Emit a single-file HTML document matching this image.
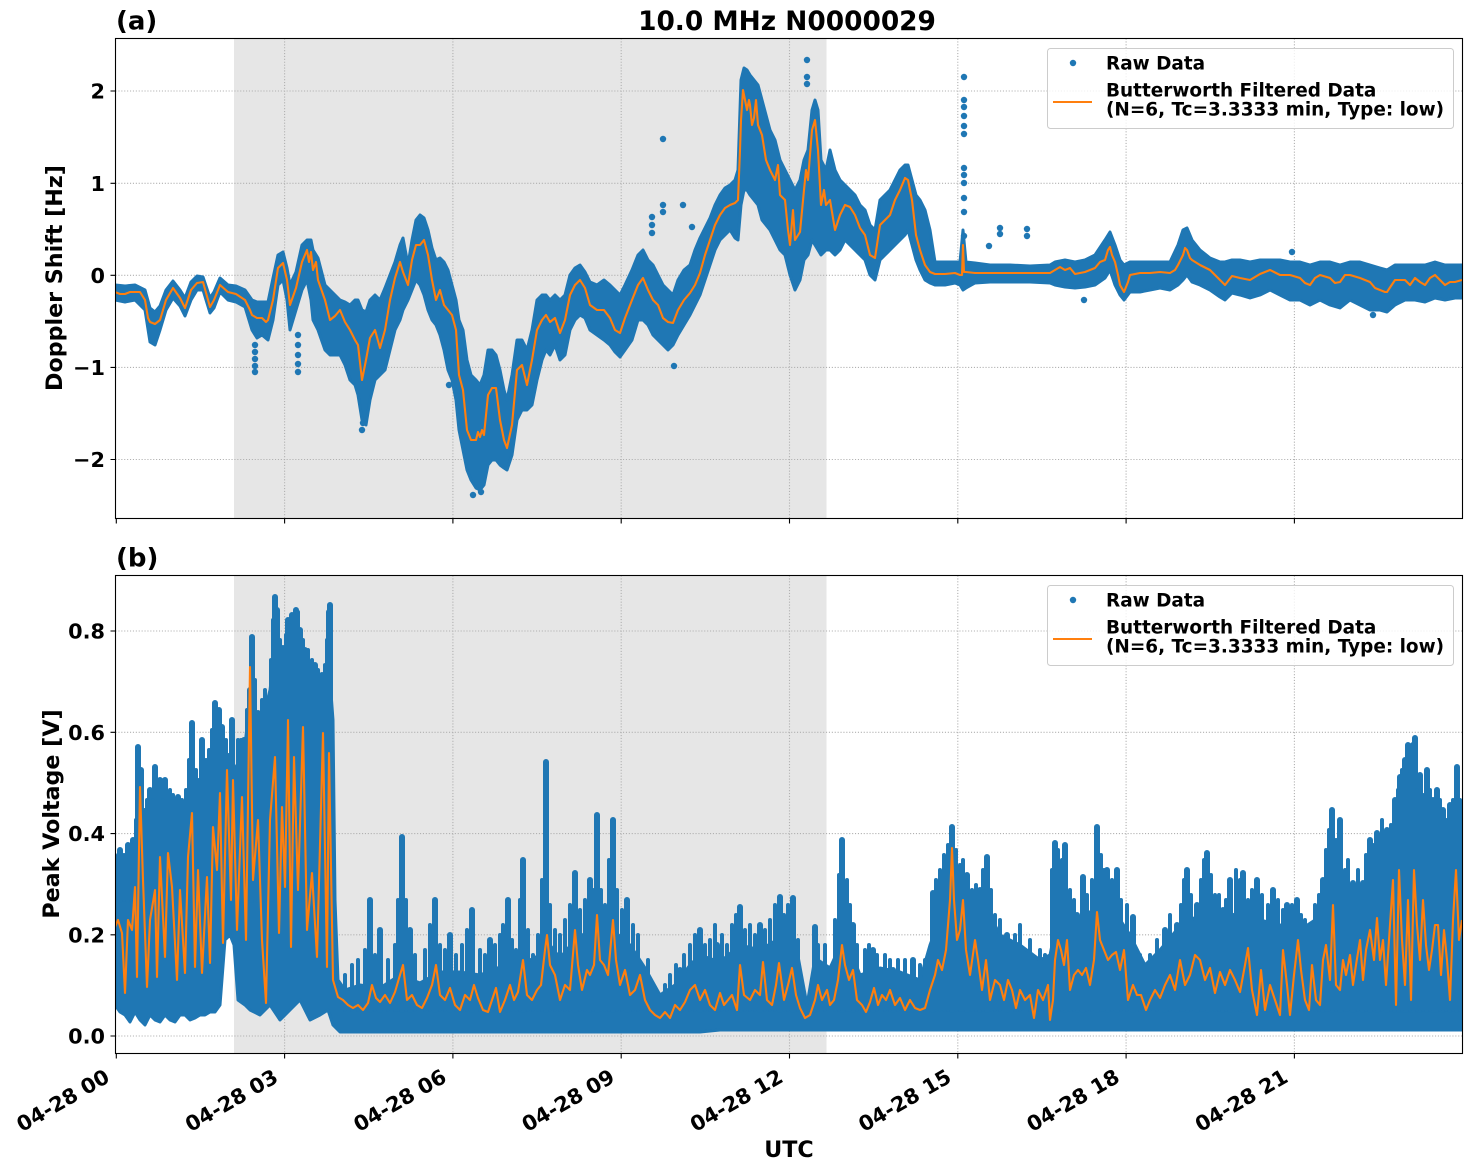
<!DOCTYPE html>
<html>
<head>
<meta charset="utf-8">
<style>
html,body{margin:0;padding:0;background:#fff;}
svg{display:block;}
text{font-family:"DejaVu Sans","Liberation Sans",sans-serif;font-weight:bold;fill:#000;}
</style>
</head>
<body>
<svg width="1472" height="1172" viewBox="0 0 1472 1172" xmlns="http://www.w3.org/2000/svg">
<defs>
<clipPath id="ct"><rect x="115.5" y="38.5" width="1347" height="480"/></clipPath>
<clipPath id="cb"><rect x="115.5" y="575.5" width="1347" height="478"/></clipPath>
</defs>
<rect width="1472" height="1172" fill="#fff"/>

<!-- ============ TOP PANEL ============ -->
<rect x="234" y="38.5" width="592.5" height="480" fill="#e6e6e6"/>
<g stroke="#b0b0b0" stroke-width="1.1" stroke-dasharray="1.1 1.8" fill="none">
<path d="M284.6 38.5V518.5M452.9 38.5V518.5M621.2 38.5V518.5M789.5 38.5V518.5M957.8 38.5V518.5M1126.1 38.5V518.5M1294.4 38.5V518.5"/>
<path d="M115.5 91H1462.5M115.5 183.3H1462.5M115.5 275.3H1462.5M115.5 367.4H1462.5M115.5 459.5H1462.5"/>
</g>
<g clip-path="url(#ct)">
<polygon fill="#1f77b4" stroke="#1f77b4" stroke-width="3" stroke-linejoin="round" points="115,285 125,286 135,285 145,290 150,308 155,312 160,306 166,290 173,281 180,290 185,298 191,282 197,276 203,277 210,298 214,292 220,278 228,285 236,286 245,290 252,300 257,302 262,302 268,302 273,278 278,255 283,252 287,268 290,285 296,272 302,245 307,240 311,240 313,250 318,258 325,285 330,290 335,295 340,300 345,302 350,305 355,300 358,300 362,310 366,312 370,300 375,295 380,300 385,288 390,275 395,262 400,245 403,238 408,265 412,240 416,220 420,215 424,218 428,230 432,248 436,260 440,258 444,262 448,270 452,285 456,300 459,320 463,330 467,360 471,375 476,380 480,385 484,375 488,350 492,350 496,355 500,370 504,390 507,400 512,375 517,340 522,340 527,350 532,330 537,300 542,295 546,295 550,300 555,295 560,300 565,295 570,275 575,268 580,265 585,272 590,282 597,285 604,280 610,285 615,290 620,295 625,285 632,270 638,255 643,250 648,260 653,265 658,275 663,285 668,290 673,295 678,280 684,270 690,265 695,250 700,238 705,228 710,218 715,205 720,195 725,188 730,185 735,180 738,170 741,80 744,68 747,70 750,75 754,80 758,85 762,100 766,115 770,130 775,140 780,160 785,170 790,180 795,190 800,180 804,160 808,150 812,110 815,100 818,110 821,160 826,170 830,150 835,170 840,180 845,185 850,190 855,195 860,205 865,210 870,225 875,230 880,200 885,195 890,190 895,180 900,170 905,165 908,165 912,180 916,195 920,200 925,210 930,230 935,262 945,262 955,262 960,262 963,230 966,262 975,263 990,265 1010,265 1030,266 1050,265 1055,262 1065,260 1075,262 1085,260 1095,255 1105,240 1110,232 1115,245 1120,260 1124,265 1130,262 1140,262 1150,262 1160,262 1170,262 1178,245 1183,230 1187,228 1192,240 1200,250 1210,258 1220,262 1225,262 1232,260 1240,260 1250,262 1260,260 1270,260 1280,260 1290,262 1300,262 1310,265 1320,262 1330,262 1340,265 1350,262 1360,262 1370,265 1380,268 1387,270 1395,265 1405,265 1415,265 1425,265 1435,262 1445,265 1455,265 1462,265 1462,298 1455,298 1445,300 1435,298 1425,302 1415,300 1405,300 1395,305 1387,312 1380,310 1370,310 1360,305 1350,300 1340,308 1330,305 1320,300 1310,305 1300,300 1290,300 1280,295 1270,290 1260,295 1250,298 1240,295 1232,293 1225,300 1220,297 1210,290 1200,285 1192,282 1187,275 1183,280 1178,285 1170,290 1160,288 1150,290 1140,292 1130,292 1124,300 1120,295 1115,285 1110,270 1105,278 1095,285 1085,287 1075,288 1065,287 1055,285 1050,283 1030,282 1010,282 990,282 975,283 966,288 963,290 960,285 955,283 945,285 935,285 930,283 925,280 920,270 916,260 912,245 908,230 905,235 900,240 895,245 890,250 885,255 880,260 875,280 870,275 865,260 860,255 855,250 850,245 845,240 840,250 835,255 830,250 826,250 821,255 818,250 815,245 812,240 808,255 804,260 800,280 795,290 790,275 785,255 780,250 775,240 770,230 766,225 762,220 758,205 754,200 750,195 747,190 744,190 741,205 738,240 735,238 730,230 725,235 720,240 715,250 710,265 705,280 700,295 695,305 690,315 684,325 678,335 673,345 668,350 663,345 658,340 653,335 648,325 643,320 638,320 632,340 625,350 620,357 615,352 610,345 604,340 597,335 590,330 585,318 580,315 575,320 570,330 565,355 560,360 555,345 550,355 546,350 542,360 537,380 532,405 527,410 522,410 517,420 512,455 507,470 504,468 500,465 496,460 492,460 488,465 484,485 480,490 476,488 471,480 467,470 463,450 459,430 456,400 452,380 448,370 444,350 440,335 436,325 432,320 428,310 424,295 420,285 416,280 412,290 408,300 403,310 400,320 395,330 390,350 385,370 380,375 375,380 370,400 366,425 362,420 358,395 355,385 350,380 345,365 340,355 335,355 330,355 325,350 318,330 313,320 311,300 307,280 302,290 296,310 290,330 287,300 283,280 278,285 273,320 268,340 262,335 257,338 252,330 245,307 236,302 228,300 220,292 214,308 210,313 203,290 197,290 191,300 185,316 180,306 173,298 166,310 160,330 155,345 150,342 145,310 135,300 125,302 115,300"/>
<g fill="#1f77b4">
<circle cx="255" cy="345" r="3.2"/><circle cx="255" cy="352" r="3.2"/><circle cx="255" cy="359" r="3.2"/><circle cx="255" cy="366" r="3.2"/><circle cx="255" cy="372" r="3.2"/>
<circle cx="298" cy="335" r="3.2"/><circle cx="298" cy="345" r="3.2"/><circle cx="298" cy="355" r="3.2"/><circle cx="298" cy="364" r="3.2"/><circle cx="298" cy="372" r="3.2"/>
<circle cx="362" cy="430" r="3.2"/><circle cx="363" cy="423" r="3.2"/>
<circle cx="473" cy="495" r="3.2"/><circle cx="481" cy="492" r="3.2"/><circle cx="449" cy="385" r="3.2"/>
<circle cx="663" cy="139" r="3.2"/><circle cx="683" cy="205" r="3.2"/><circle cx="663" cy="205" r="3.2"/><circle cx="663" cy="212" r="3.2"/><circle cx="652" cy="217" r="3.2"/><circle cx="652" cy="225" r="3.2"/><circle cx="652" cy="233" r="3.2"/><circle cx="692" cy="227" r="3.2"/><circle cx="674" cy="366" r="3.2"/>
<circle cx="807" cy="60" r="3.2"/><circle cx="807" cy="77" r="3.2"/><circle cx="807" cy="84" r="3.2"/>
<circle cx="964" cy="77" r="3.2"/><circle cx="964" cy="100" r="3.2"/><circle cx="964" cy="107" r="3.2"/><circle cx="964" cy="116" r="3.2"/><circle cx="964" cy="126" r="3.2"/><circle cx="964" cy="134" r="3.2"/><circle cx="964" cy="168" r="3.2"/><circle cx="964" cy="175" r="3.2"/><circle cx="964" cy="183" r="3.2"/><circle cx="964" cy="198" r="3.2"/><circle cx="964" cy="212" r="3.2"/><circle cx="964" cy="236" r="3.2"/>
<circle cx="1000" cy="228" r="3.2"/><circle cx="1000" cy="234" r="3.2"/><circle cx="1027" cy="229" r="3.2"/><circle cx="1027" cy="236" r="3.2"/><circle cx="989" cy="246" r="3.2"/>
<circle cx="1084" cy="300" r="3.2"/><circle cx="1292" cy="252" r="3.2"/><circle cx="1373" cy="315" r="3.2"/>
</g>
<polyline fill="none" stroke="#ff7f0e" stroke-width="2.1" stroke-linejoin="round" points="115,292 120,294 125,294 130,292 135,292 140,292 145,300 148,318 150,322 155,324 160,320 166,300 173,288 180,298 185,308 191,290 197,283 203,282 210,307 214,300 220,285 228,292 236,294 245,300 250,310 252,315 257,318 262,318 266,322 268,320 273,300 278,268 283,263 287,280 290,305 296,288 302,262 307,250 309,262 311,252 313,270 316,262 318,280 325,300 330,320 335,316 340,310 345,322 350,330 355,340 358,345 362,380 366,360 370,338 375,330 380,348 385,330 390,300 395,278 400,262 403,272 408,285 412,260 416,245 420,245 424,240 428,255 432,280 436,300 440,290 444,305 448,310 452,315 456,330 459,375 463,390 467,430 471,440 476,440 478,432 480,437 482,430 484,435 488,395 492,388 496,388 500,420 504,440 507,448 512,425 517,370 522,365 527,385 532,360 537,330 542,320 546,315 550,322 555,318 560,333 565,320 570,295 575,285 580,280 585,288 590,305 597,310 604,310 610,318 615,330 620,333 625,318 632,300 638,285 643,278 648,290 653,300 658,305 663,318 668,322 673,323 678,310 684,300 690,293 695,285 700,273 705,255 710,240 715,225 720,215 725,208 730,205 735,203 738,200 740,150 741,120 743,90 745,100 747,110 749,100 750,105 752,125 754,118 756,100 758,125 762,135 766,160 770,170 775,180 778,165 780,195 785,200 788,230 790,245 793,210 795,240 800,232 804,190 806,170 808,180 812,130 815,120 818,150 821,205 824,190 826,205 830,200 835,230 840,215 845,205 850,207 855,215 860,228 865,235 870,255 875,258 880,225 885,220 890,215 895,200 900,190 905,178 908,180 912,200 916,235 920,250 925,265 930,272 935,274 945,274 955,273 960,275 962,275 963,245 964,272 966,272 975,273 990,273 1010,273 1030,273 1050,273 1055,270 1060,267 1065,270 1070,268 1075,274 1085,272 1095,268 1100,262 1105,260 1108,250 1110,247 1112,255 1115,262 1118,275 1120,285 1124,292 1128,282 1130,275 1140,273 1150,273 1160,272 1170,273 1175,270 1178,265 1183,255 1185,248 1187,250 1190,258 1192,260 1200,265 1210,270 1215,275 1220,280 1225,285 1232,276 1240,278 1250,280 1260,274 1270,270 1280,275 1290,275 1300,278 1305,283 1310,285 1315,278 1320,275 1330,278 1335,283 1340,282 1345,275 1350,275 1360,278 1370,282 1375,288 1380,290 1385,292 1387,292 1395,280 1405,280 1410,285 1415,278 1420,282 1425,285 1430,278 1435,275 1440,280 1445,285 1450,282 1455,282 1462,280"/>
</g>
<!-- legend top -->
<rect x="1047.5" y="48.5" width="406" height="80" rx="3" fill="#fff" fill-opacity="0.8" stroke="#cccccc" stroke-width="1"/>
<circle cx="1073" cy="63" r="3.2" fill="#1f77b4"/>
<line x1="1053" y1="102" x2="1092" y2="102" stroke="#ff7f0e" stroke-width="2.1"/>
<text x="1106" y="69.5" font-size="18.45">Raw Data</text>
<text x="1106" y="96.5" font-size="18.45">Butterworth Filtered Data</text>
<text x="1106" y="115.5" font-size="18.45">(N=6, Tc=3.3333 min, Type: low)</text>
<!-- spines & ticks top -->
<rect x="115.5" y="38.5" width="1347" height="480" fill="none" stroke="#000" stroke-width="1.1"/>
<g stroke="#000" stroke-width="1.1">
<path d="M116.3 518.5V523.5M284.6 518.5V523.5M452.9 518.5V523.5M621.2 518.5V523.5M789.5 518.5V523.5M957.8 518.5V523.5M1126.1 518.5V523.5M1294.4 518.5V523.5"/>
<path d="M110.5 91H115.5M110.5 183.3H115.5M110.5 275.3H115.5M110.5 367.4H115.5M110.5 459.5H115.5"/>
</g>
<g font-size="20.8" text-anchor="end">
<text x="105" y="98.5">2</text>
<text x="105" y="190.8">1</text>
<text x="105" y="282.8">0</text>
<text x="105" y="374.9">−1</text>
<text x="105" y="467">−2</text>
</g>
<text x="62" y="278" font-size="22.2" text-anchor="middle" transform="rotate(-90 62 278)">Doppler Shift [Hz]</text>
<text x="116" y="29.5" font-size="26">(a)</text>
<text x="787" y="30" font-size="26.4" text-anchor="middle">10.0 MHz N0000029</text>

<!-- ============ BOTTOM PANEL ============ -->
<rect x="234" y="575.5" width="592.5" height="478" fill="#e6e6e6"/>
<g stroke="#b0b0b0" stroke-width="1.1" stroke-dasharray="1.1 1.8" fill="none">
<path d="M284.6 575.5V1053.5M452.9 575.5V1053.5M621.2 575.5V1053.5M789.5 575.5V1053.5M957.8 575.5V1053.5M1126.1 575.5V1053.5M1294.4 575.5V1053.5"/>
<path d="M115.5 631H1462.5M115.5 732.3H1462.5M115.5 833.6H1462.5M115.5 934.8H1462.5M115.5 1036H1462.5"/>
</g>
<g clip-path="url(#cb)">
<polygon fill="#1f77b4" stroke="#1f77b4" stroke-width="3" stroke-linejoin="round" points="115,875 120,870 125,868 130,860 135,850 140,820 145,830 150,810 155,800 160,805 165,800 170,810 175,815 180,820 185,810 190,790 195,780 200,790 205,780 210,770 215,740 220,745 225,760 230,765 234,770 240,760 245,745 250,700 255,710 260,730 265,710 270,690 275,650 280,660 285,650 290,640 295,640 300,650 305,660 310,680 315,690 320,690 325,680 330,680 333,720 335,900 338,980 345,990 360,985 380,988 400,975 420,983 440,972 460,972 480,975 500,967 520,965 540,955 550,945 560,958 575,940 590,930 600,935 615,932 630,945 645,968 660,995 675,985 690,965 700,955 720,962 740,945 760,950 780,938 795,940 807,1005 815,958 830,968 845,935 860,975 880,968 900,972 920,980 930,945 945,905 955,895 970,912 985,905 1000,935 1020,945 1040,960 1050,955 1060,905 1075,920 1090,912 1100,905 1115,912 1130,935 1145,965 1160,950 1175,932 1190,922 1205,908 1220,920 1240,912 1260,920 1280,925 1300,930 1315,920 1330,882 1345,890 1360,895 1375,872 1390,870 1400,845 1415,835 1430,848 1445,860 1462,852 1462,1030 720,1030 700,1032 340,1032 333,1025 328,1010 320,1015 310,1020 300,1000 290,1010 280,1020 270,1005 260,1015 250,1010 245,1005 238,1000 234,945 230,935 225,940 220,1005 215,1012 210,1012 205,1015 200,1015 195,1018 190,1020 185,1015 180,1015 175,1022 170,1020 165,1015 160,1022 155,1020 150,1015 145,1025 140,1020 135,1012 130,1022 125,1015 120,1012 115,1005"/>
<path fill="none" stroke="#1f77b4" stroke-width="6" stroke-linecap="round" d="M120 900V850M128 900V845M133 900V840M138 900V747M141 900V770M150 900V790M155 900V767M160 900V780M165 900V780M178 900V797M192 900V723M202 900V740M215 900V703M219 900V710M222 900V727M232 900V720M244 900V740M250 900V690M252 900V637M258 900V713M268 900V700M275 900V597M277 900V610M283 900V648M288 900V620M292 900V615M296 900V610M300 900V630M305 900V650M315 900V665M322 900V675M329 900V612M330 900V605
M370 1010V900M380 1010V930M402 1010V837M410 1010V930M435 1010V900M450 1010V935M472 1010V910M490 1010V940M508 1010V900M523 1010V860M546 1010V762M575 1010V873M590 1010V880M597 1010V815M613 1010V820M627 1010V900M680 1010V970M700 1010V930M717 1010V945M740 1010V907M760 1010V925M780 1010V897M793 1010V898M815 1010V927M842 1010V840M853 1010V925M873 1010V950M893 1010V970M913 1010V960M933 1010V893M952 1010V827M967 1010V875M980 1010V890M987 1010V857M1007 1010V935M1055 1010V843M1065 1010V845M1077 1010V915M1083 1010V877M1097 1010V827M1107 1010V870M1117 1010V870M1133 1010V917M1165 1010V930M1177 1010V925M1187 1010V870M1197 1010V905M1207 1010V853M1223 1010V910M1230 1010V880M1243 1010V873M1257 1010V880M1273 1010V890M1287 1010V905M1297 1010V900M1323 1010V880M1332 1010V810M1340 1010V820M1353 1010V883M1363 1010V883M1370 1010V840M1377 1010V833M1387 1010V830M1395 1010V800M1400 1010V777M1405 1010V760M1408 1010V745M1413 1010V745M1415 1010V738M1420 1010V775M1427 1010V770M1433 1010V800M1437 1010V790M1443 1010V810M1450 1010V805M1457 1010V767"/>
<path fill="none" stroke="#1f77b4" stroke-width="4" stroke-linecap="round" d="M118 900V855M124 900V855M131 900V850M136 900V820M144 900V810M147 900V800M153 900V800M158 900V790M163 900V800M170 900V790M173 900V795M182 900V800M186 900V790M189 900V760M196 900V770M199 900V780M206 900V760M209 900V750M212 900V730M226 900V740M229 900V755M238 900V740M241 900V740M247 900V710M255 900V680M262 900V700M265 900V690M271 900V660M273 900V620M280 900V640M286 900V635M290 900V625M294 900V615M298 900V612M303 900V640M308 900V650M312 900V660M318 900V670M325 900V665M327 900V640
M345 1010V975M352 1010V965M358 1010V960M365 1010V950M375 1010V955M388 1010V960M395 1010V945M398 1010V900M406 1010V900M415 1010V955M425 1010V950M430 1010V925M440 1010V945M445 1010V950M456 1010V955M462 1010V945M467 1010V930M480 1010V950M485 1010V955M495 1010V945M500 1010V935M503 1010V925M512 1010V940M516 1010V950M520 1010V900M528 1010V930M533 1010V955M538 1010V935M542 1010V880M550 1010V905M555 1010V930M560 1010V935M565 1010V920M570 1010V905M580 1010V910M585 1010V900M593 1010V890M601 1010V890M605 1010V905M609 1010V860M617 1010V890M622 1010V910M633 1010V925M638 1010V935M648 1010V960M665 1010V985M670 1010V975M676 1010V965M684 1010V955M690 1010V945M695 1010V935M705 1010V945M710 1010V940M715 1010V925M722 1010V935M727 1010V945M732 1010V925M736 1010V915M745 1010V930M750 1010V925M755 1010V935M765 1010V930M770 1010V920M775 1010V905M784 1010V915M788 1010V905M798 1010V940M818 1010V945M825 1010V945M835 1010V920M839 1010V875M847 1010V880M850 1010V905M857 1010V945M865 1010V950M869 1010V945M877 1010V955M885 1010V955M890 1010V960M898 1010V960M905 1010V960M920 1010V965M925 1010V960M936 1010V880M940 1010V870M944 1010V855M948 1010V845M956 1010V850M960 1010V865M963 1010V860M972 1010V890M976 1010V885M983 1010V870M991 1010V890M995 1010V915M1000 1010V920M1015 1010V935M1020 1010V925M1030 1010V940M1040 1010V950M1045 1010V955M1052 1010V870M1058 1010V850M1062 1010V860M1070 1010V890M1074 1010V900M1087 1010V895M1092 1010V880M1101 1010V855M1104 1010V870M1112 1010V880M1121 1010V900M1127 1010V905M1140 1010V955M1150 1010V955M1157 1010V940M1170 1010V915M1181 1010V905M1184 1010V880M1191 1010V895M1201 1010V880M1204 1010V860M1211 1010V875M1215 1010V895M1219 1010V895M1226 1010V900M1236 1010V870M1240 1010V880M1248 1010V900M1252 1010V890M1262 1010V895M1268 1010V905M1278 1010V900M1283 1010V910M1292 1010V905M1301 1010V915M1305 1010V920M1310 1010V925M1315 1010V905M1319 1010V895M1326 1010V850M1329 1010V830M1336 1010V840M1345 1010V870M1348 1010V860M1358 1010V870M1366 1010V855M1374 1010V845M1382 1010V820M1391 1010V825M1398 1010V790M1402 1010V770M1410 1010V765M1417 1010V790M1423 1010V795M1430 1010V790M1440 1010V800M1446 1010V820M1453 1010V800M1460 1010V800"/>
<polyline fill="none" stroke="#ff7f0e" stroke-width="2.1" stroke-linejoin="round" points="115,927 118,920 122,933 125,993 128,920 132,930 135,887 137,977 140,787 143,880 147,987 150,920 155,890 157,977 160,857 165,957 168,853 172,887 177,980 180,890 185,973 188,857 192,813 195,967 198,870 202,973 207,877 210,963 213,827 217,870 220,793 223,943 227,770 231,900 233,780 237,930 242,797 246,940 250,667 253,880 258,820 262,940 266,1003 270,820 275,757 279,933 282,807 285,887 288,720 291,947 294,757 298,890 303,727 307,930 312,873 317,957 323,733 327,967 329,753 333,980 338,997 343,1000 348,1005 353,1008 358,1005 363,1010 368,1003 372,985 376,998 380,1002 385,995 390,1003 395,992 400,975 403,965 407,1000 412,995 417,1005 422,1008 427,998 432,985 436,965 440,995 445,1000 450,988 455,1005 460,1010 465,995 470,1000 474,985 478,998 483,1010 488,1012 492,1000 496,988 500,1012 505,1000 510,985 514,1000 518,992 523,960 527,995 532,1000 537,990 541,985 545,950 547,935 550,965 555,975 560,1000 565,985 570,990 575,930 578,965 582,990 587,970 590,975 594,965 597,915 600,960 604,965 608,975 613,920 616,960 620,985 625,970 630,995 635,990 640,975 645,1000 650,1010 655,1015 660,1018 665,1012 670,1018 675,1005 680,1010 685,1002 690,990 695,985 700,1000 705,990 710,1005 715,1010 720,993 724,1005 728,1000 732,995 737,1010 740,965 744,995 750,1000 755,990 760,995 763,962 767,1000 772,1005 776,985 779,963 784,1000 788,985 792,968 796,995 800,1008 805,1018 810,1015 815,1000 818,985 822,1000 827,990 830,1005 834,1000 838,980 842,945 845,965 849,980 853,970 857,1000 862,1005 866,1012 870,1002 874,988 878,1005 882,995 886,1000 890,990 895,1005 900,998 905,1010 910,1000 915,1008 920,1010 925,1008 930,990 935,975 938,960 942,970 946,950 950,900 952,848 954,900 957,940 960,930 963,900 966,950 970,975 975,940 978,960 982,990 986,960 990,1000 995,980 1000,985 1004,1000 1008,980 1012,990 1016,1008 1020,990 1025,1000 1030,995 1034,1018 1038,990 1043,1000 1048,985 1050,1020 1053,1000 1055,960 1058,940 1061,950 1064,965 1067,940 1070,990 1074,975 1078,970 1082,975 1086,968 1090,985 1094,960 1097,912 1100,940 1104,950 1108,960 1112,955 1116,952 1120,970 1124,950 1128,1000 1133,985 1137,995 1141,995 1146,1010 1150,1000 1155,990 1160,998 1165,985 1170,975 1175,990 1180,960 1185,985 1190,975 1195,955 1200,960 1205,980 1210,968 1215,993 1220,972 1225,985 1230,970 1235,980 1240,992 1245,965 1248,948 1252,990 1257,1015 1261,970 1265,1010 1270,985 1275,1000 1280,1015 1283,950 1287,985 1290,1015 1294,975 1298,940 1301,970 1305,1000 1309,1010 1312,965 1316,1000 1320,1005 1323,960 1326,945 1330,980 1333,905 1336,985 1340,990 1343,960 1346,975 1350,955 1353,985 1356,965 1360,940 1363,980 1366,950 1370,930 1374,960 1377,918 1380,960 1383,940 1386,985 1389,940 1393,880 1396,1005 1399,870 1402,940 1405,985 1408,900 1411,1000 1414,870 1417,925 1420,960 1423,900 1426,945 1429,970 1432,950 1435,925 1438,925 1441,975 1444,930 1447,960 1450,1000 1453,920 1456,870 1459,940 1462,920"/>
</g>
<!-- legend bottom -->
<rect x="1047.5" y="585.5" width="406" height="80" rx="3" fill="#fff" fill-opacity="0.8" stroke="#cccccc" stroke-width="1"/>
<circle cx="1073" cy="600" r="3.2" fill="#1f77b4"/>
<line x1="1053" y1="639" x2="1092" y2="639" stroke="#ff7f0e" stroke-width="2.1"/>
<text x="1106" y="606.5" font-size="18.45">Raw Data</text>
<text x="1106" y="633.5" font-size="18.45">Butterworth Filtered Data</text>
<text x="1106" y="652.5" font-size="18.45">(N=6, Tc=3.3333 min, Type: low)</text>
<!-- spines & ticks bottom -->
<rect x="115.5" y="575.5" width="1347" height="478" fill="none" stroke="#000" stroke-width="1.1"/>
<g stroke="#000" stroke-width="1.1">
<path d="M116.3 1053.5V1058.5M284.6 1053.5V1058.5M452.9 1053.5V1058.5M621.2 1053.5V1058.5M789.5 1053.5V1058.5M957.8 1053.5V1058.5M1126.1 1053.5V1058.5M1294.4 1053.5V1058.5"/>
<path d="M110.5 631H115.5M110.5 732.3H115.5M110.5 833.6H115.5M110.5 934.8H115.5M110.5 1036H115.5"/>
</g>
<g font-size="20.8" text-anchor="end">
<text x="105" y="638.5">0.8</text>
<text x="105" y="739.8">0.6</text>
<text x="105" y="841.1">0.4</text>
<text x="105" y="942.3">0.2</text>
<text x="105" y="1043.5">0.0</text>
</g>
<text x="59" y="814" font-size="22.2" text-anchor="middle" transform="rotate(-90 59 814)">Peak Voltage [V]</text>
<text x="116" y="566.5" font-size="26">(b)</text>
<!-- x tick labels -->
<g font-size="20.8" text-anchor="end">
<text x="111" y="1081" transform="rotate(-30 111 1081)">04-28 00</text>
<text x="279.6" y="1081" transform="rotate(-30 279.6 1081)">04-28 03</text>
<text x="447.9" y="1081" transform="rotate(-30 447.9 1081)">04-28 06</text>
<text x="616.2" y="1081" transform="rotate(-30 616.2 1081)">04-28 09</text>
<text x="784.5" y="1081" transform="rotate(-30 784.5 1081)">04-28 12</text>
<text x="952.8" y="1081" transform="rotate(-30 952.8 1081)">04-28 15</text>
<text x="1121.1" y="1081" transform="rotate(-30 1121.1 1081)">04-28 18</text>
<text x="1289.4" y="1081" transform="rotate(-30 1289.4 1081)">04-28 21</text>
</g>
<text x="789" y="1157" font-size="22.2" text-anchor="middle">UTC</text>
</svg>
</body>
</html>
